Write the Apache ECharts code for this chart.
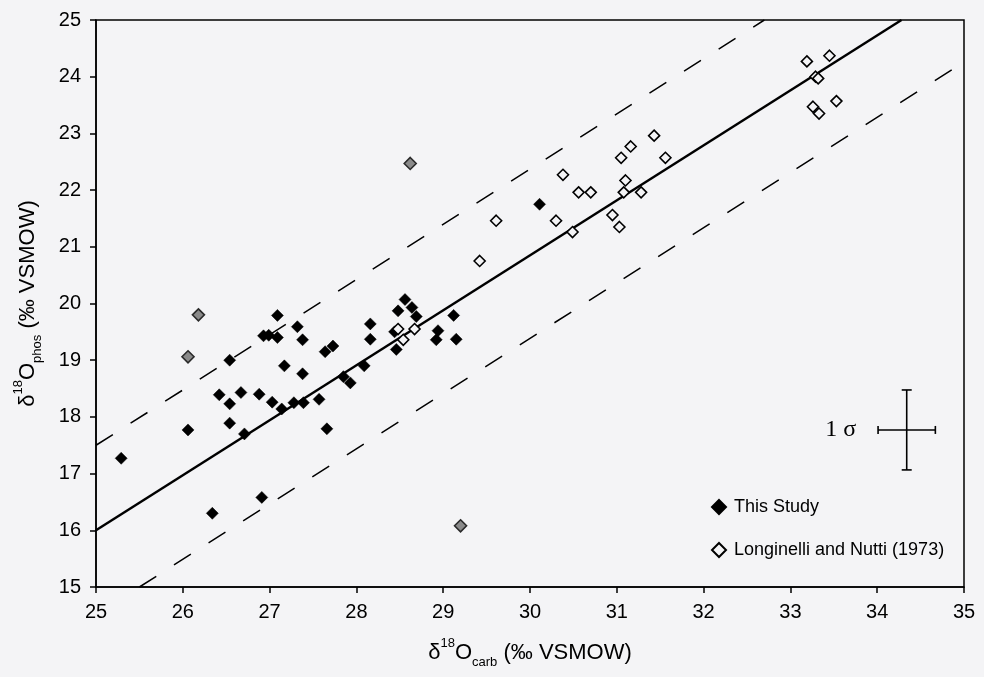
<!DOCTYPE html>
<html>
<head>
<meta charset="utf-8">
<script src="https://cdn.jsdelivr.net/npm/echarts@6/dist/echarts.min.js"></script>
<style>
  html, body { margin: 0; padding: 0; background: #f4f4f6; }
  #chart { width: 984px; height: 677px; }
</style>
</head>
<body>
<div id="chart"></div>
<script>
// values
var thisStudy = [
  [25.29,17.27],[26.06,17.77],[26.54,19.00],[26.42,18.39],[26.54,18.23],[26.67,18.43],
  [26.54,17.89],[26.71,17.70],[26.88,18.40],[27.09,19.79],[26.93,19.43],[26.99,19.44],
  [27.09,19.40],[27.32,19.59],[27.38,19.36],[27.17,18.90],[27.38,18.76],[27.03,18.26],
  [27.14,18.14],[27.28,18.25],[27.39,18.25],[27.57,18.31],[27.64,19.15],[27.73,19.25],
  [27.66,17.79],[26.91,16.58],[26.34,16.30],[27.85,18.71],[27.93,18.60],[28.09,18.90],
  [28.16,19.64],[28.16,19.37],[28.48,19.87],[28.56,20.07],[28.64,19.93],[28.69,19.77],
  [28.44,19.50],[28.46,19.19],[28.92,19.36],[28.94,19.52],[29.12,19.79],[29.15,19.37],
  [30.11,21.75]
];
var longinelli = [
  [28.48,19.55],[28.54,19.36],[28.67,19.55],[29.42,20.75],[29.61,21.46],[30.30,21.46],
  [30.38,22.27],[30.49,21.26],[30.56,21.96],[30.70,21.96],[30.95,21.56],[31.03,21.35],
  [31.08,21.96],[31.10,22.17],[31.28,21.96],[31.05,22.57],[31.16,22.77],[31.43,22.96],
  [31.56,22.57],[33.19,24.27],[33.45,24.37],[33.29,24.00],[33.32,23.97],[33.53,23.57],
  [33.26,23.47],[33.33,23.35]
];
var greyPoints = [[26.18,19.80],[26.06,19.06],[28.62,22.47],[29.20,16.08]];

var fitLine = [[25,16],[34.28,25]];
var upperLine = [[25,17.5],[32.7,25]];
var lowerLine = [[25.5,15],[35,24.26]];

// 1 sigma cross: x, y, half-width, half-height
var sigmaCross = [[34.34,17.77,0.33,0.705]];

var chart = echarts.init(document.getElementById('chart'));

var nameRich = {
  b: { fontSize: 22, fontFamily: 'Liberation Sans, Arial', color: '#000', lineHeight: 32, verticalAlign: 'middle' },
  sup: { fontSize: 13, fontFamily: 'Liberation Sans, Arial', color: '#000', lineHeight: 13, verticalAlign: 'top' },
  sub: { fontSize: 13, fontFamily: 'Liberation Sans, Arial', color: '#000', lineHeight: 13, verticalAlign: 'bottom' }
};

var option = {
  backgroundColor: '#f4f4f6',
  animation: false,
  grid: {
    left: 96, right: 20, top: 20, bottom: 90,
    show: true, borderColor: '#000', borderWidth: 1.5, backgroundColor: 'transparent'
  },
  legend: {
    data: ['This Study', 'Longinelli and Nutti (1973)'],
    orient: 'vertical',
    left: 711, top: 498,
    itemWidth: 14, itemHeight: 14, itemGap: 25,
    padding: 0,
    textStyle: { fontSize: 18, fontFamily: 'Liberation Sans, Arial', color: '#000', padding: [0, 0, 0, 3] }
  },
  xAxis: {
    type: 'value', min: 25, max: 35, interval: 1,
    name: '{b|δ}{sup|18}{b|O}{sub|carb}{b| (‰ VSMOW)}',
    nameLocation: 'middle', nameGap: 50,
    nameTextStyle: { rich: nameRich },
    axisLine: { lineStyle: { color: '#000', width: 1.5 } },
    axisTick: { length: 6, lineStyle: { color: '#000', width: 1.5 } },
    axisLabel: { fontSize: 20, fontFamily: 'Liberation Sans, Arial', color: '#000', margin: 15 },
    splitLine: { show: false }
  },
  yAxis: {
    type: 'value', min: 15, max: 25, interval: 1,
    name: '{b|δ}{sup|18}{b|O}{sub|phos}{b| (‰ VSMOW)}',
    nameLocation: 'middle', nameGap: 52,
    nameTextStyle: { rich: nameRich },
    axisLine: { lineStyle: { color: '#000', width: 1.5 } },
    axisTick: { length: 6, lineStyle: { color: '#000', width: 1.5 } },
    axisLabel: { fontSize: 20, fontFamily: 'Liberation Sans, Arial', color: '#000', margin: 15 },
    splitLine: { show: false }
  },
  series: [
    {
      name: 'fit', type: 'line', data: fitLine, symbol: 'none', z: 1,
      lineStyle: { color: '#000', width: 2.5 }
    },
    {
      name: 'upper', type: 'line', data: upperLine, symbol: 'none', z: 1,
      lineStyle: { color: '#000', width: 1.5, type: [20, 21] }
    },
    {
      name: 'lower', type: 'line', data: lowerLine, symbol: 'none', z: 1,
      lineStyle: { color: '#000', width: 1.5, type: [20, 21] }
    },
    {
      name: 'This Study', type: 'scatter', data: thisStudy, symbol: 'diamond', symbolSize: 12, z: 3,
      itemStyle: { color: '#000', borderColor: '#000', borderWidth: 0.5, opacity: 1 }
    },
    {
      name: 'Longinelli and Nutti (1973)', type: 'scatter', data: longinelli, symbol: 'diamond', symbolSize: 11, z: 3,
      itemStyle: { color: '#f4f4f6', borderColor: '#000', borderWidth: 1.6, opacity: 1 }
    },
    {
      name: 'grey', type: 'scatter', data: greyPoints, symbol: 'diamond', symbolSize: 12, z: 3,
      itemStyle: { color: '#8a8a8a', borderColor: '#2a2a2a', borderWidth: 1.6, opacity: 1 }
    },
    {
      name: 'sigma', type: 'custom', data: sigmaCross, z: 3,
      renderItem: function (params, api) {
        var x = api.value(0), y = api.value(1), dx = api.value(2), dy = api.value(3);
        var c = api.coord([x, y]);
        var l = api.coord([x - dx, y]), r = api.coord([x + dx, y]);
        var t = api.coord([x, y + dy]), b = api.coord([x, y - dy]);
        var st = { stroke: '#000', lineWidth: 1.6 };
        return {
          type: 'group',
          children: [
            { type: 'line', shape: { x1: l[0], y1: c[1], x2: r[0], y2: c[1] }, style: st },
            { type: 'line', shape: { x1: l[0], y1: c[1] - 4, x2: l[0], y2: c[1] + 4 }, style: st },
            { type: 'line', shape: { x1: r[0], y1: c[1] - 4, x2: r[0], y2: c[1] + 4 }, style: st },
            { type: 'line', shape: { x1: c[0], y1: t[1], x2: c[0], y2: b[1] }, style: st },
            { type: 'line', shape: { x1: c[0] - 5, y1: t[1], x2: c[0] + 5, y2: t[1] }, style: st },
            { type: 'line', shape: { x1: c[0] - 5, y1: b[1], x2: c[0] + 5, y2: b[1] }, style: st },
            { type: 'text', style: { text: '1 σ', x: l[0] - 22, y: c[1], align: 'right', verticalAlign: 'middle',
                fontSize: 24, fontFamily: 'Liberation Serif, Times New Roman', fill: '#000' } }
          ]
        };
      }
    }
  ]
};

chart.setOption(option);
</script>
</body>
</html>
